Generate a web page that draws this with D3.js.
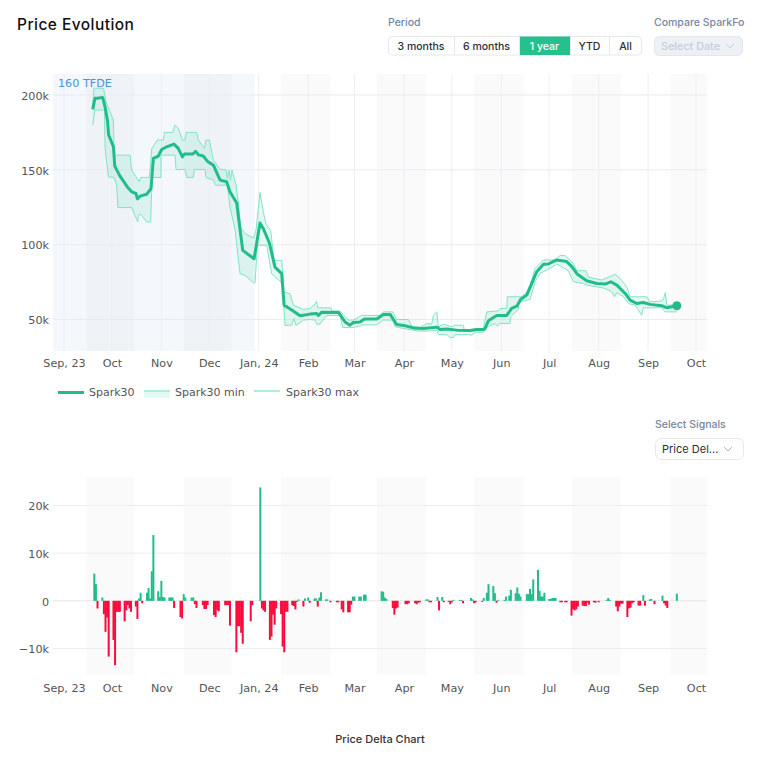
<!DOCTYPE html>
<html>
<head>
<meta charset="utf-8">
<script src="https://cdn.jsdelivr.net/npm/d3@7"></script>
<style>
  body { margin: 0; background: #fff; }
  svg { display: block; }
  .ticks text { font-family: "DejaVu Sans", sans-serif; font-size: 11.2px; fill: #555; }
  .ui { font-family: Inter, sans-serif; }
</style>
</head>
<body>
<svg id="chart" width="760" height="757"></svg>
<script>
// days are counted from 1 Sep 2023, values in thousands
var priceDays = [18,19.4,20.9,24.2,25.7,27.2,28,31,31.8,35.1,39.7,42.4,45.1,46,47.6,51.8,54.5,56,59.1,61.2,64.3,68.9,71.6,74.2,75.4,80.6,82.5,84.2,87.3,89.8,93.6,97.8,101.9,104,108.2,109.3,112,119.1,122.8,124.9,128.7,132.2,135.4,136.4,137.9,142.7,147.9,154.2,158.3,159.4,161.5,172,176.1,179.2,181.3,185.5,188.2,196,200.1,204.3,208.5,213.7,218.9,225.2,231.5,233.6,235.6,239.8,246.1,254.4,258.6,262.8,263.8,265.9,271.1,277.4,280.5,283.7,286.2,290,293.1,296.2,300.4,303.5,308.7,315,318.2,321.7,327.5,333.8,339,342.6,346.4,351.6,354.7,358.9,363,367.2,374.6,377.7,384];
var priceValues = [190.4,197.8,197.8,198.4,192.2,183.3,173.2,165.4,152.5,145.8,138.6,135.3,134.2,130.6,132.4,133.7,137.5,157.6,159.2,163.6,165.4,167.2,164.3,158.7,160.5,160.5,162.3,160,159.2,155.8,153.1,143.1,142,135.3,127.9,118.5,96.2,90.6,114.5,110.7,101.1,85,81.7,80.8,59.6,56.3,52.5,53.6,54,52.7,54.9,54.7,48.4,46.2,48,48.4,50.4,50.4,53.4,53.4,46.6,45.8,44.4,44,44.6,44.9,43.3,43.7,42.9,42.6,43.3,43.3,44,49.1,52.7,52.7,57.4,58.9,63.6,66.3,74.1,81.9,86.9,87.1,89.8,88.7,85.3,80.2,75.9,74.1,73.7,75.2,73,67.4,63,60.7,61.4,60.1,59.2,57.8,59.2];

var maxDays = [18,18.8,24.7,26.7,30.9,31.5,41.4,42.4,47.2,48.1,53.5,55,58.5,62.3,62.9,68.1,69.6,71.7,74.2,75.8,76.5,83.2,84.2,88,89,91.1,93.6,97.8,101.5,102.4,103.4,104.3,105.3,107.8,109.3,110.7,113.4,118.7,120.3,122.8,124.9,126.6,129.5,131.6,136.4,137.9,141.6,143.7,150,154.2,157.3,158.3,159,167.3,167.7,173,178.2,181.3,186.5,198,200.1,206,208.5,215.8,217.9,223.1,227.3,230.4,231.5,233.6,234.6,237.7,242.9,245,250.3,250.9,256.5,262.8,264.9,272.2,273.2,277.4,277.8,286.8,290,292,295.2,300.4,307.7,310.8,314,319.2,321.3,327.1,328.6,337,345.3,348.4,352.6,354.7,365.1,367.2,373.5,375.6,376.8,377.7,384];
var maxValues = [193.3,204.5,204.5,194.4,183.3,159.8,159.8,149.8,142,144.9,144.9,164.3,169.9,169.9,175,175,179.9,177.7,169.9,169.9,175,175,169.9,164.3,169.9,169.9,156.5,150.2,150.2,144.2,149.8,143.1,149.8,139.7,127.5,111.8,107.4,104.5,109.6,134.8,121.9,113.6,109.6,89.5,89.5,68.3,67.2,59.6,56.7,57.4,60.3,62.1,57.8,57.8,55.8,55.6,49.6,49.6,52.7,52.7,55.1,55.1,50,50,45.5,44.6,47.3,46.9,52.9,55.1,45.1,46.9,45.1,46.2,46.2,42.4,42.4,44,55.1,55.8,57.4,57.4,65.2,65.2,68.5,73,84.2,89.8,89.8,92.7,92.7,87.5,82.6,82.6,78.2,76.4,80.2,77.5,71.9,65.2,65.2,61.8,62.3,63.4,68.1,59.6,59.6];

var minDays = [18,19.4,25.3,25.7,27.8,31.3,33,33.8,42.4,46.2,46.6,48.1,51.8,54.3,55.2,60.8,60.8,69.6,70.2,75.8,76.9,81.1,81.7,88.4,89,93.6,95,102.4,104,107.2,110.3,113.4,118.7,119.7,121.2,127,130.1,135.4,136.8,138.5,142.7,144.1,145.4,150,154.2,157.3,158.3,160.4,164.6,173,174.6,181.3,187.2,196,200.1,206,207.4,212.7,221,227.3,233.6,234.6,239.8,241.9,244,245,253.4,255.5,257.6,262.8,265.9,270.1,271.6,272.8,279.5,279.9,284.7,285.3,292,295.2,298.3,304.6,308.7,316,319.2,325.5,327.5,339,343.2,344.9,346.4,350.5,353.7,357.8,362,363,374.6,376.6,384];
var minValues = [179.9,190,190,165,145.3,144.9,139.7,124.8,124.8,115.2,119.6,120.3,115.2,115.2,144.9,144.9,159.8,159.8,150.2,150.2,144.9,144.9,150.2,150.2,144.9,143.1,139.7,139.7,125.2,109.6,80.6,79.5,74.6,74.6,99.6,99.6,80.6,75.7,73.9,46,46.2,50.7,46,49.6,50,49.6,46.9,46.9,52.7,52.7,44.6,44.6,46.4,46.4,49.6,49.6,45.1,44,42.4,42.2,42.9,39.9,39.9,37.9,37.9,39.9,39.9,39.5,41.5,41.5,45.5,47.3,45.5,47.3,47.3,51.8,56.7,61.8,63.4,75.2,80.8,84.2,87.1,82.6,75.2,74.1,73,70.8,68.5,65.2,67.9,65.2,60.7,59.6,52.9,57.8,57.8,55.1,55.1];

// one row per week, Monday to Friday, first Monday 18 Sep 2023
var deltaValues = [
  0,0,5.7,3.5,-1.6,
  .7,-2.8,-6.5,-3.5,-11.7,
  -8.2,-13.5,-2.3,-2.3,-2.3,
  -4.3,-2,-.9,-1.6,-2.3,
  -1.2,-3.8,.5,1.7,-.5,
  1.7,2.7,.5,6.2,13.8,
  2,.8,4.2,.8,.7,
  .7,.7,.7,-1.5,0,
  -3.4,-3.7,1.4,.7,0,
  .7,.7,-.7,-1.5,0,
  -.9,-1.7,-1.7,-.9,0,
  -3,-3.4,-2,-2.2,0,
  -.9,-.9,-.9,-5.2,0,
  -10.8,-5.3,-5.3,-6.7,-9,
  0,0,-4.3,-.9,0,
  0,23.8,-1.6,-2,-2.3,
  -8.2,-7.5,-2.9,-5,-1.6,
  -2.8,-9.6,-10.8,-2.3,-2.3,
  -.9,-1.1,-1.8,-.2,.3,
  -1.2,.5,0,.7,-.4,
  .5,.5,-1.2,.7,1.8,
  .3,.3,0,-.3,0,
  -.3,-.3,0,-1.8,-2.4,
  -2.4,-2.4,-.8,.9,.9,
  .9,.9,0,1.3,1.3,
  0,0,0,0,0,
  2,1.9,.7,.4,0,
  -1.5,-2.9,-1.6,-1.4,0,
  0,-.7,-.7,-.5,0,
  -.5,-.7,-.4,-.3,0,
  .3,.3,-.3,-.3,0,
  .8,-2,0,.8,-.3,
  -.2,-.7,-.3,.2,0,
  .2,.2,-.5,0,0,
  .6,.3,-.5,-.3,0,
  -.2,.6,0,1.7,3.5,
  3.1,1.6,-.4,.2,0,
  .2,.9,0,1.1,2.3,
  1.6,2.8,1.5,.9,0,
  1.4,1.4,2.5,1.4,4.5,
  6.5,2.1,.9,.9,1.7,
  .4,.4,.6,.6,.6,
  -.3,-.3,0,-.3,-.3,
  -3.1,-1.8,-2,-1.8,-1.2,
  -1,-1.1,-1.1,-.4,-.8,
  -.3,-.4,0,-.3,0,
  0,.2,.6,.2,0,
  -1.2,-2.2,-1.2,-.6,-.6,
  -3.4,-1.6,-1.4,-.5,-.3,
  -1,-1,0,1.2,-1,
  .3,.4,0,-.7,0,
  0,1.1,-.5,-1,-1.5,
  0,0,0,1.5,0
];

var monthLabels = ["Sep, 23","Oct","Nov","Dec","Jan, 24","Feb","Mar","Apr","May","Jun","Jul","Aug","Sep","Oct"];
var priceTicks = [50,100,150,200];
var priceTickLabels = ["50k","100k","150k","200k"];
var deltaTicks = [-10,0,10,20];
var deltaTickLabels = ["\u221210k","0","10k","20k"];
var bandStartMonths = [0,2,4,6,8,10,12];   // months after Sep 2023, each band from the 15th for one month
var periods = ["3 months","6 months","1 year","YTD","All"];
var periodEdges = [388,454,519,570,609,642];
var legendNames = ["Spark30","Spark30 min","Spark30 max"];

var GREEN = "#22bc8b", RED = "#ff0a3c", MINT = "#7fe5c5";

var svg = d3.select("#chart");
var start = new Date(Date.UTC(2023, 8, 1));
function dayDate(d) { return new Date(start.getTime() + d * 864e5); }

var x = d3.scaleUtc().domain([start, new Date(Date.UTC(2024, 9, 1))]).range([64, 696]);
var months = d3.utcMonth.range(start, new Date(Date.UTC(2024, 9, 2)));
var left = 53, right = 707;

var yTop = d3.scaleLinear().domain([50, 200]).range([319.5, 95]);
var yBot = d3.scaleLinear().domain([-10, 20]).range([648.5, 505.5]);

function bandEnds(m) {
  var s = d3.utcMonth.offset(start, m);
  return [d3.utcDay.offset(s, 14), d3.utcDay.offset(d3.utcMonth.offset(s, 1), 14)];
}

function panel(y0, y1) {
  var g = svg.append("g");
  g.selectAll("rect.band").data(bandStartMonths).enter().append("rect")
    .attr("class", "band")
    .attr("x", function(m) { return x(bandEnds(m)[0]); })
    .attr("width", function(m) { return Math.min(right, x(bandEnds(m)[1])) - x(bandEnds(m)[0]); })
    .attr("y", y0)
    .attr("height", y1 - y0)
    .attr("fill", "#fafafa");
  return g;
}

function axes(y, ticks, labels, tickTop) {
  var ax = d3.axisBottom(x).tickValues(months).tickSize(0)
    .tickFormat(function(d, i) { return monthLabels[i]; });
  var gx = svg.append("g").attr("class", "ticks").attr("transform", "translate(0," + tickTop + ")").call(ax);
  gx.select(".domain").remove();
  var ay = d3.axisLeft(y).tickValues(ticks).tickSize(0)
    .tickFormat(function(d, i) { return labels[i]; });
  var gy = svg.append("g").attr("class", "ticks").attr("transform", "translate(52,0.6)").call(ay);
  gy.select(".domain").remove();
}

// top panel
var top0 = 74, top1 = 351;
var gTop = panel(top0, top1);

gTop.append("rect").attr("x", left).attr("y", top0)
  .attr("width", x(dayDate(119.3)) - left).attr("height", top1 - top0)
  .attr("fill", "#3d8fdc").attr("opacity", 0.06);

gTop.selectAll("line.vg").data(months).enter().append("line")
  .attr("class", "vg")
  .attr("x1", function(d) { return x(d); }).attr("x2", function(d) { return x(d); })
  .attr("y1", top0).attr("y2", top1)
  .attr("stroke", "#eceef1").attr("stroke-width", 1);

gTop.selectAll("line.hg").data(priceTicks).enter().append("line")
  .attr("class", "hg")
  .attr("x1", left).attr("x2", right)
  .attr("y1", function(d) { return yTop(d); }).attr("y2", function(d) { return yTop(d); })
  .attr("stroke", "#e9ebee").attr("stroke-width", 1);

var line = d3.line().x(function(d) { return x(dayDate(d[0])); }).y(function(d) { return yTop(d[1]); });

var maxPts = d3.zip(maxDays, maxValues);
var minPts = d3.zip(minDays, minValues);
var pricePts = d3.zip(priceDays, priceValues);

gTop.append("path").attr("d", line(maxPts.concat(minPts.slice().reverse())) + "Z")
  .attr("fill", "#2fd3a3").attr("opacity", 0.13);
gTop.append("path").attr("d", line(minPts)).attr("fill", "none").attr("stroke", MINT).attr("stroke-width", 1);
gTop.append("path").attr("d", line(maxPts)).attr("fill", "none").attr("stroke", MINT).attr("stroke-width", 1);
gTop.append("path").attr("d", line(pricePts)).attr("fill", "none").attr("stroke", GREEN)
  .attr("stroke-width", 3).attr("stroke-linejoin", "round");
gTop.append("circle")
  .attr("cx", x(dayDate(priceDays[priceDays.length - 1])))
  .attr("cy", yTop(priceValues[priceValues.length - 1]))
  .attr("r", 4.5).attr("fill", GREEN);

gTop.append("text").attr("x", 58).attr("y", 86.5).text("160 TFDE")
  .attr("font-family", "DejaVu Sans, sans-serif").attr("font-size", 11.2).attr("fill", "#4a92dd");

axes(yTop, priceTicks, priceTickLabels, top1 + 5);

// bottom panel
var bot0 = 477, bot1 = 675;
var gBot = panel(bot0, bot1);

gBot.selectAll("line.hg").data(deltaTicks).enter().append("line")
  .attr("class", "hg")
  .attr("x1", left).attr("x2", right)
  .attr("y1", function(d) { return yBot(d); }).attr("y2", function(d) { return yBot(d); })
  .attr("stroke", function(d) { return d == 0 ? "#e3e5e8" : "#ebedf0"; }).attr("stroke-width", 1);

var weekdays = d3.utcDay.range(new Date(Date.UTC(2023, 8, 18)), new Date(Date.UTC(2024, 8, 21)))
  .filter(function(d) { return d.getUTCDay() > 0 && d.getUTCDay() < 6; });
var barW = 2;

gBot.selectAll("rect.bar").data(deltaValues).enter().append("rect")
  .attr("class", "bar")
  .attr("x", function(d, i) { return x(weekdays[i]) - barW / 2; })
  .attr("width", barW)
  .attr("y", function(d) { return yBot(Math.max(d, 0)); })
  .attr("height", function(d) { return Math.abs(yBot(d) - yBot(0)); })
  .attr("fill", function(d) { return d >= 0 ? GREEN : RED; });

axes(yBot, deltaTicks, deltaTickLabels, bot1 + 6);

// legend
var legX = [58, 144, 254], legTextX = [89, 175, 286];
var leg = svg.append("g").selectAll("g").data(legendNames).enter().append("g");
leg.append("rect").attr("x", function(d, i) { return legX[i]; }).attr("y", 392).attr("width", 26)
  .attr("height", function(d, i) { return i == 1 ? 6 : 0; }).attr("fill", "#2fd3a3").attr("opacity", 0.13);
leg.append("line")
  .attr("x1", function(d, i) { return legX[i]; }).attr("x2", function(d, i) { return legX[i] + 26; })
  .attr("y1", function(d, i) { return i == 0 ? 392.5 : 391; }).attr("y2", function(d, i) { return i == 0 ? 392.5 : 391; })
  .attr("stroke", function(d, i) { return i == 0 ? GREEN : MINT; })
  .attr("stroke-width", function(d, i) { return i == 0 ? 3 : 1.3; });
leg.append("text").attr("x", function(d, i) { return legTextX[i]; }).attr("y", 396)
  .text(function(d) { return d; })
  .attr("font-family", "DejaVu Sans, sans-serif").attr("font-size", 11).attr("fill", "#555");

// header and controls
function label(txt, px, py, size, col, weight, anchor) {
  return svg.append("text").attr("class", "ui").attr("x", px).attr("y", py).text(txt)
    .attr("font-size", size).attr("fill", col).attr("font-weight", weight || 400)
    .attr("text-anchor", anchor || "start");
}
function chevron(px, py, col) {
  svg.append("path").attr("d", d3.line()([[px, py], [px + 4, py + 4], [px + 8, py]]))
    .attr("fill", "none").attr("stroke", col).attr("stroke-width", 1);
}

label("Price Evolution", 17, 29.5, 15.5, "#111", 500).attr("letter-spacing", 0.45);
label("Period", 388, 26, 10.5, "#7686a3", 500);
label("Compare SparkFo", 654, 26, 10.5, "#7686a3", 500);
label("Select Signals", 655, 428, 10.5, "#7686a3", 500);
label("Price Delta Chart", 380, 743, 11, "#333", 500, "middle");

svg.append("rect").attr("x", 388.5).attr("y", 36.5).attr("width", 253).attr("height", 18.5).attr("rx", 4)
  .attr("fill", "#fff").attr("stroke", "#e6e8ec");
svg.selectAll("rect.period").data(periods).enter().append("rect")
  .attr("class", "period")
  .attr("x", function(d, i) { return periodEdges[i]; })
  .attr("width", function(d, i) { return periodEdges[i + 1] - periodEdges[i]; })
  .attr("y", 36.5).attr("height", 18.5)
  .attr("fill", function(d) { return d == "1 year" ? "#25c08d" : "none"; });
svg.selectAll("line.sep").data(periodEdges.slice(1, 5)).enter().append("line")
  .attr("class", "sep")
  .attr("x1", function(d) { return d + 0.5; }).attr("x2", function(d) { return d + 0.5; })
  .attr("y1", 36.5).attr("y2", 55).attr("stroke", "#e6e8ec");
svg.selectAll("text.period").data(periods).enter().append("text")
  .attr("class", "period ui")
  .attr("x", function(d, i) { return (periodEdges[i] + periodEdges[i + 1]) / 2; })
  .attr("y", 49.5).attr("text-anchor", "middle").attr("font-size", 10.5).attr("font-weight", 500)
  .attr("fill", function(d) { return d == "1 year" ? "#fff" : "#2b2f36"; })
  .text(function(d) { return d; });

svg.append("rect").attr("x", 654.5).attr("y", 36.5).attr("width", 88).attr("height", 19).attr("rx", 5)
  .attr("fill", "#edf1f5").attr("stroke", "#e2e7ed");
label("Select Date", 661, 50, 10.8, "#c3ceda", 500);
chevron(726, 44, "#c3ceda");

svg.append("rect").attr("x", 655.5).attr("y", 438.5).attr("width", 88).attr("height", 21).attr("rx", 6)
  .attr("fill", "#fff").attr("stroke", "#e6e8ec");
label("Price Del...", 662, 453, 11, "#2b2f36", 400);
chevron(724, 447, "#b5bcc6");
</script>
</body>
</html>
